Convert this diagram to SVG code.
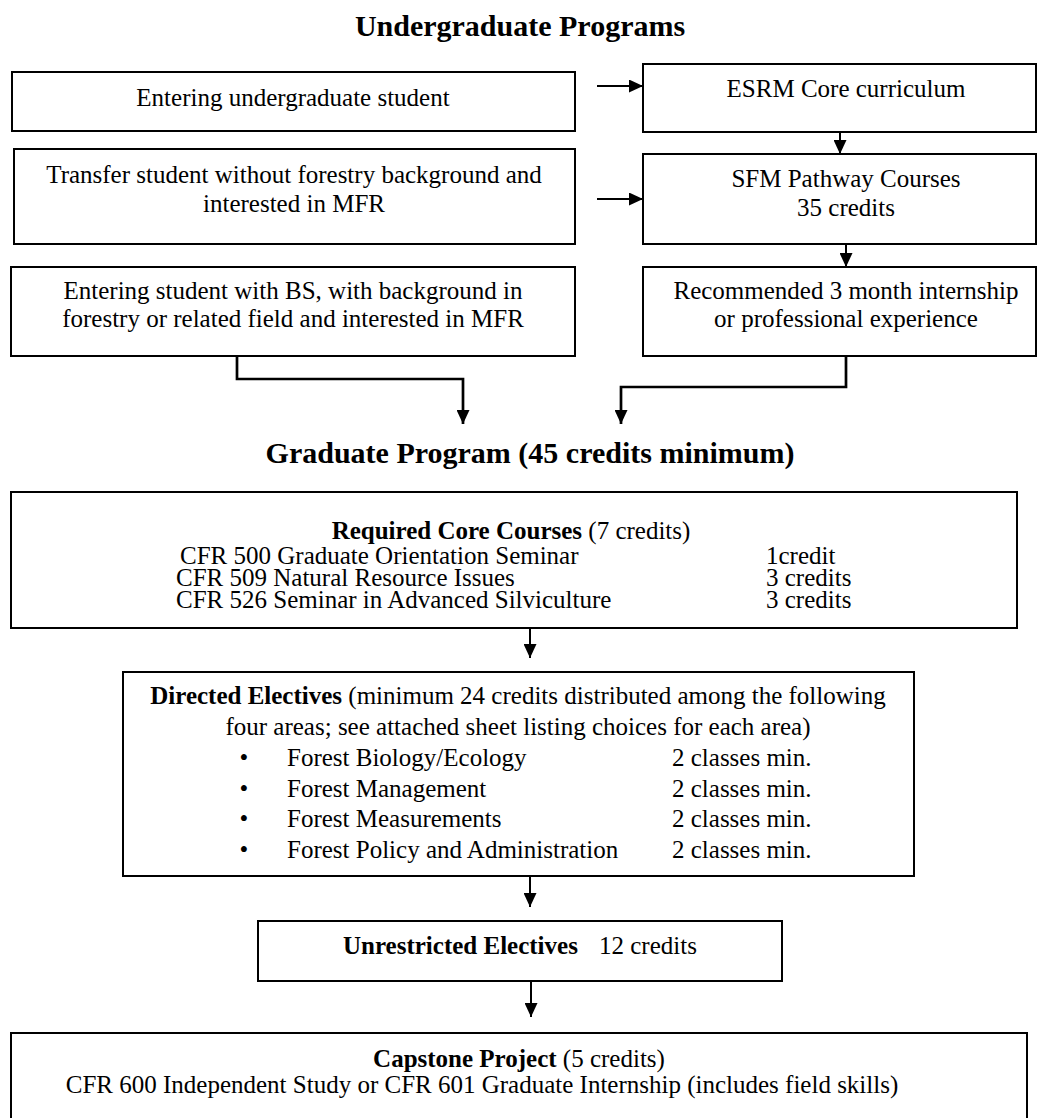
<svg xmlns="http://www.w3.org/2000/svg" width="1039" height="1118" viewBox="0 0 1039 1118">
<style>
  text { font-family: "Liberation Serif", "Times New Roman", serif; font-size: 25px; fill: #000; }
  .title { font-size: 30px; font-weight: bold; text-anchor: middle; }
  .c { text-anchor: middle; }
  .b { font-weight: bold; }
  .box { fill: #fff; stroke: #000; stroke-width: 2; }
  .conn { fill: none; stroke: #000; stroke-width: 2; marker-end: url(#ah); }
  .elbow { fill: none; stroke: #000; stroke-width: 2.7; marker-end: url(#ah); }
</style>
<defs>
  <marker id="ah" viewBox="0 0 14 13" refX="14" refY="6.5" markerWidth="14" markerHeight="13" markerUnits="userSpaceOnUse" orient="auto">
    <path d="M0,0 L14,6.5 L0,13 z" fill="#000"/>
  </marker>
</defs>
<rect width="1039" height="1118" fill="#fff"/>

<text class="title" x="520" y="36">Undergraduate Programs</text>
<text class="title" x="530" y="463">Graduate Program (45 credits minimum)</text>

<g id="connectors">
  <line class="conn" x1="597" y1="86" x2="643" y2="86"/>
  <line class="conn" x1="597" y1="199" x2="643" y2="199"/>
  <line class="conn" x1="840" y1="132" x2="840" y2="154"/>
  <line class="conn" x1="846" y1="244" x2="846" y2="267"/>
  <polyline class="elbow" points="237,356 237,379 463,379 463,424"/>
  <polyline class="elbow" points="846,356 846,387 621,387 621,424"/>
  <line class="conn" x1="530" y1="628" x2="530" y2="658"/>
  <line class="conn" x1="530" y1="876" x2="530" y2="907"/>
  <line class="conn" x1="531" y1="981" x2="531" y2="1017"/>
</g>

<g id="n-entering">
  <rect class="box" x="12" y="72" width="563" height="59"/>
  <text class="c" x="293" y="106">Entering undergraduate student</text>
</g>
<g id="n-transfer">
  <rect class="box" x="14" y="149" width="561" height="95"/>
  <text class="c" x="294" y="183">Transfer student without forestry background and</text>
  <text class="c" x="294" y="212">interested in MFR</text>
</g>
<g id="n-bs">
  <rect class="box" x="11" y="267" width="564" height="89"/>
  <text class="c" x="293" y="299">Entering student with BS, with background in</text>
  <text class="c" x="293" y="327">forestry or related field and interested in MFR</text>
</g>
<g id="n-esrm">
  <rect class="box" x="643" y="64" width="393" height="68"/>
  <text class="c" x="846" y="97">ESRM Core curriculum</text>
</g>
<g id="n-sfm">
  <rect class="box" x="643" y="154" width="393" height="90"/>
  <text class="c" x="846" y="187">SFM Pathway Courses</text>
  <text class="c" x="846" y="216">35 credits</text>
</g>
<g id="n-intern">
  <rect class="box" x="643" y="267" width="393" height="89"/>
  <text class="c" x="846" y="299">Recommended 3 month internship</text>
  <text class="c" x="846" y="327">or professional experience</text>
</g>

<g id="n-core">
  <rect class="box" x="11" y="492" width="1006" height="136"/>
  <text class="c" x="511" y="539"><tspan class="b">Required Core Courses</tspan> (7 credits)</text>
  <text x="180" y="564">CFR 500 Graduate Orientation Seminar</text>
  <text x="766" y="564">1credit</text>
  <text x="176" y="586">CFR 509 Natural Resource Issues</text>
  <text x="766" y="586">3 credits</text>
  <text x="176" y="608">CFR 526 Seminar in Advanced Silviculture</text>
  <text x="766" y="608">3 credits</text>
</g>

<g id="n-directed">
  <rect class="box" x="123" y="672" width="791" height="204"/>
  <text class="c" x="518" y="704"><tspan class="b">Directed Electives</tspan> (minimum 24 credits distributed among the following</text>
  <text class="c" x="518" y="735">four areas; see attached sheet listing choices for each area)</text>
  <text x="244" y="766" class="c">•</text><text x="287" y="766">Forest Biology/Ecology</text><text x="672" y="766">2 classes min.</text>
  <text x="244" y="797" class="c">•</text><text x="287" y="797">Forest Management</text><text x="672" y="797">2 classes min.</text>
  <text x="244" y="827" class="c">•</text><text x="287" y="827">Forest Measurements</text><text x="672" y="827">2 classes min.</text>
  <text x="244" y="858" class="c">•</text><text x="287" y="858">Forest Policy and Administration</text><text x="672" y="858">2 classes min.</text>
</g>

<g id="n-unrestricted">
  <rect class="box" x="258" y="921" width="524" height="60"/>
  <text x="343" y="954" class="b">Unrestricted Electives</text>
  <text x="599" y="954">12 credits</text>
</g>

<g id="n-capstone">
  <rect class="box" x="11" y="1033" width="1016" height="100"/>
  <text class="c" x="519" y="1067"><tspan class="b">Capstone Project</tspan> (5 credits)</text>
  <text class="c" x="482" y="1093">CFR 600 Independent Study or CFR 601 Graduate Internship (includes field skills)</text>
</g>
</svg>
